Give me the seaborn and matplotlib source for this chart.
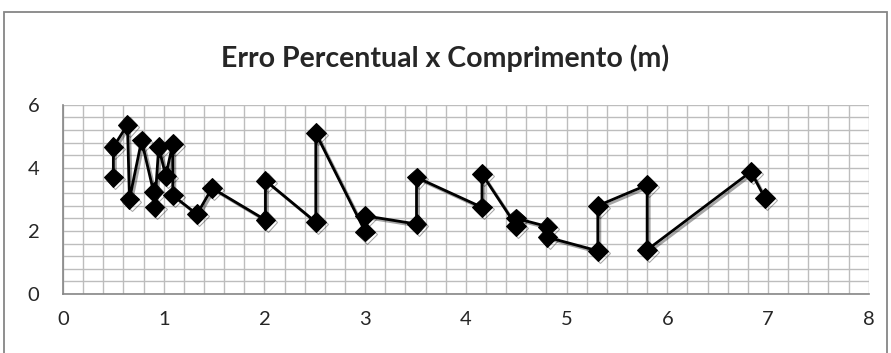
import pandas as pd
import seaborn as sns
import matplotlib.pyplot as plt
import matplotlib.patheffects as pe
from matplotlib.patches import Rectangle
from matplotlib.ticker import MultipleLocator

# comprimento (m) e erro percentual, na ordem em que a linha passa
comprimento = [0.50, 0.50, 0.64, 0.66, 0.78, 0.90, 0.91, 0.95, 1.02, 1.09, 1.09,
               1.33, 1.48, 2.01, 2.01, 2.51, 2.51, 3.00, 3.00, 3.51, 3.51,
               4.16, 4.16, 4.50, 4.50, 4.81, 4.81, 5.31, 5.31, 5.80, 5.80,
               6.83, 6.97]
erro = [3.70, 4.66, 5.37, 3.00, 4.87, 3.23, 2.75, 4.66, 3.75, 4.76, 3.13,
        2.53, 3.36, 2.35, 3.60, 2.28, 5.10, 1.98, 2.48, 2.22, 3.70,
        2.75, 3.81, 2.16, 2.40, 2.14, 1.80, 1.37, 2.80, 3.46, 1.40,
        3.88, 3.04]
x_ticks = [0, 1, 2, 3, 4, 5, 6, 7, 8]
y_ticks = [0, 2, 4, 6]

df = pd.DataFrame({'comprimento': comprimento, 'erro': erro})

sns.set_style('white')
plt.rcParams['font.family'] = ['Lato', 'DejaVu Sans']

fig = plt.figure(figsize=(8.91, 3.53), dpi=100)
ax = fig.add_axes([0.0707, 0.167, 0.9043, 0.536])

sns.lineplot(data=df, x='comprimento', y='erro', sort=False, estimator=None, ax=ax,
             color='black', linewidth=2, marker='D', markersize=10,
             markeredgecolor='black', markerfacecolor='black',
             path_effects=[pe.SimpleLineShadow(offset=(1.5, -1.5), alpha=0.35), pe.Normal()])

ax.set_xlim(0, 8)
ax.set_ylim(0, 6)
ax.set_xticks(x_ticks)
ax.set_yticks(y_ticks)
ax.xaxis.set_minor_locator(MultipleLocator(0.2))
ax.yaxis.set_minor_locator(MultipleLocator(0.4))
ax.grid(which='both', color='#bdbdbd', linewidth=1)
ax.set_axisbelow(True)
ax.tick_params(axis='x', which='major', pad=7)
ax.tick_params(axis='y', which='major', pad=12)
ax.tick_params(axis='both', which='major', direction='out', length=5,
               color='#868686', labelsize=14.5, width=1)
ax.tick_params(axis='both', which='minor', length=0)
ax.set_xlabel('')
ax.set_ylabel('')
for s in ['top', 'right']:
    ax.spines[s].set_visible(False)
for s in ['left', 'bottom']:
    ax.spines[s].set_color('#868686')
    ax.spines[s].set_linewidth(1.2)

fig.text(0.5, 0.835, 'Erro Percentual x Comprimento (m)', ha='center', va='center',
         fontsize=20.5, fontweight='bold')

fig.patches.append(Rectangle((4 / 891, -0.01), 883 / 891, 341 / 353 + 0.01,
                             transform=fig.transFigure, fill=False,
                             edgecolor='#868686', linewidth=1.3))

fig.savefig('out.png', dpi=100)
